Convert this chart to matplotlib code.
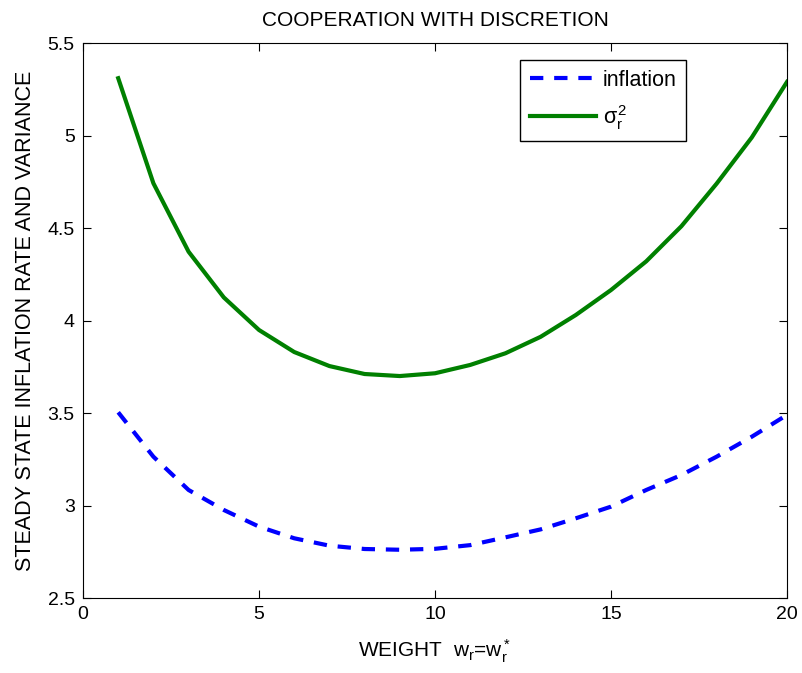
import matplotlib
matplotlib.use('Agg')
import matplotlib.pyplot as plt
import numpy as np

plt.rcParams['font.family'] = ['Liberation Sans', 'DejaVu Sans']
plt.rcParams['mathtext.fontset'] = 'custom'
plt.rcParams['mathtext.rm'] = 'Liberation Sans'
plt.rcParams['mathtext.it'] = 'Liberation Sans'

weight = np.arange(1, 21)
inflation = [3.504, 3.264, 3.084, 2.976, 2.886, 2.823, 2.783, 2.765, 2.761, 2.766,
             2.786, 2.828, 2.871, 2.931, 2.994, 3.084, 3.165, 3.264, 3.372, 3.49]
sigma_r2 = [5.31, 4.742, 4.372, 4.125, 3.949, 3.830, 3.754, 3.711, 3.700, 3.715,
            3.76, 3.823, 3.912, 4.03, 4.165, 4.32, 4.51, 4.74, 4.99, 5.29]

fig = plt.figure(figsize=(8.02, 6.73), dpi=100)
ax = fig.add_axes([0.1035, 0.1114, 0.8778, 0.8246])

ax.plot(weight, inflation, color='blue', linestyle='--', linewidth=3, dashes=(3.2, 2.6), label='inflation')
ax.plot(weight, sigma_r2, color='green', linestyle='-', linewidth=3, label=r'$\sigma_r^2$')

ax.set_xlim(0, 20)
ax.set_ylim(2.5, 5.5)
ax.set_xticks([0, 5, 10, 15, 20])
ax.set_yticks([2.5, 3, 3.5, 4, 4.5, 5, 5.5])
ax.set_yticklabels(['2.5', '3', '3.5', '4', '4.5', '5', '5.5'])
ax.tick_params(direction='in', top=True, right=True, labelsize=14, length=6, pad=6)

ax.set_title('COOPERATION WITH DISCRETION', fontsize=15, pad=12)
ax.set_xlabel(r'WEIGHT  $\mathregular{w_r}$=$\mathregular{w_r^*}$', fontsize=15, labelpad=10)
ax.set_ylabel('STEADY STATE INFLATION RATE AND VARIANCE', fontsize=15.5, labelpad=8)

leg = ax.legend(loc='upper right', bbox_to_anchor=(0.857, 0.969), borderaxespad=0,
                fontsize=15.5, fancybox=False, edgecolor='black', framealpha=1,
                handlelength=3.1, borderpad=0.45, labelspacing=0.55, handletextpad=0.3)
leg.get_frame().set_linewidth(1.0)

plt.savefig('out.png', dpi=100)
plt.close(fig)
